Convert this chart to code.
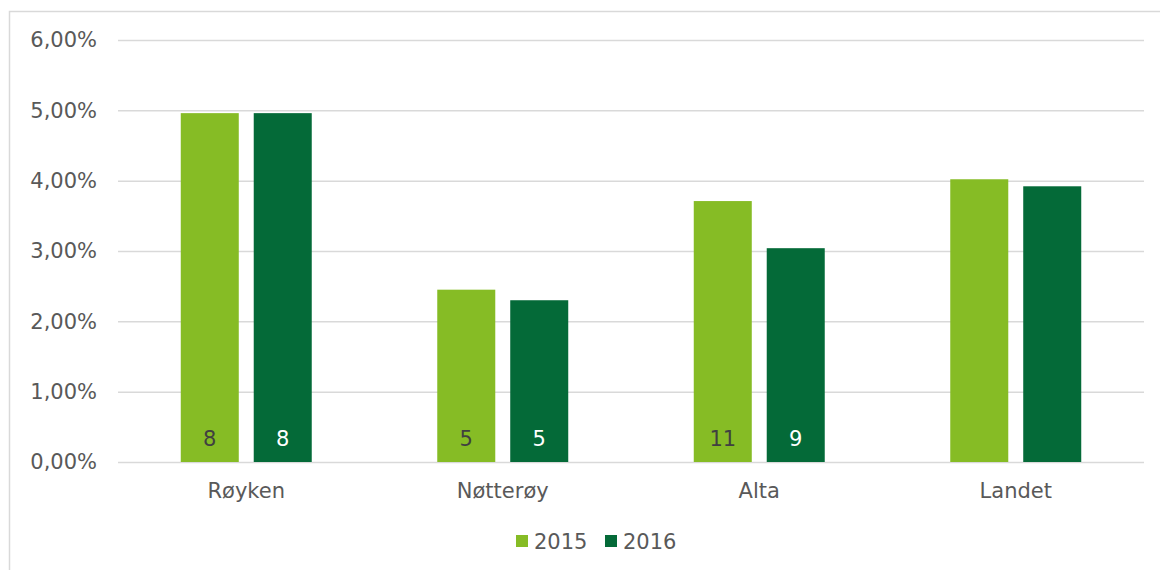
<!DOCTYPE html>
<html>
<head>
<meta charset="utf-8">
<script src="https://cdn.jsdelivr.net/npm/d3@7"></script>
<style>
  body { margin: 0; background: #fff; }
  svg { display: block; font-family: "DejaVu Sans", Verdana, sans-serif; }
</style>
</head>
<body>
<div id="container"></div>
<script>
const categories = ['Røyken', 'Nøtterøy', 'Alta', 'Landet'];
const years = ['2015', '2016'];
const values2015 = [0.0496, 0.0245, 0.0371, 0.0402];
const values2016 = [0.0496, 0.0230, 0.0304, 0.0392];
const counts2015 = ['8', '5', '11', ''];
const counts2016 = ['8', '5', '9', ''];
const yTicks = [0, 0.01, 0.02, 0.03, 0.04, 0.05, 0.06];

const width = 1160;
const height = 570;
const margin = { top: 40, left: 118, bottom: 108, right: 16 };

const colors = ['#86bc25', '#046a38'];
const labelColors = ['#404040', '#ffffff'];
const textColor = '#595959';
const gridColor = '#d9d9d9';

const nb = d3.formatLocale({
  decimal: ',',
  thousands: ' ',
  grouping: [3],
  currency: ['', ' kr'],
});
const pct = nb.format('.2%');

const rows = categories.map((c, i) => ({
  cat: c,
  vals: [
    { year: years[0], v: values2015[i], n: counts2015[i] },
    { year: years[1], v: values2016[i], n: counts2016[i] },
  ],
}));

const svg = d3
  .select('#container')
  .append('svg')
  .attr('width', width)
  .attr('height', height);

// chart area border
svg
  .append('rect')
  .attr('x', 9.5)
  .attr('y', 11.5)
  .attr('width', width + 20)
  .attr('height', height + 20)
  .attr('fill', 'none')
  .attr('stroke', gridColor)
  .attr('stroke-width', 1.5);

const x0 = d3
  .scaleBand()
  .domain(categories)
  .range([margin.left, width - margin.right]);

const x1 = d3
  .scaleBand()
  .domain(years)
  .range([0, x0.bandwidth()])
  .paddingInner(0.205)
  .paddingOuter(0.86);

const y = d3
  .scaleLinear()
  .domain([0, 0.06])
  .range([height - margin.bottom, margin.top]);

// gridlines + y labels
const yAxis = d3
  .axisLeft(y)
  .tickValues(yTicks)
  .tickFormat(pct)
  .tickSize(-(width - margin.left - margin.right))
  .tickPadding(21);

const yg = svg
  .append('g')
  .attr('transform', 'translate(' + margin.left + ',0)')
  .call(yAxis);
yg.select('.domain').remove();
yg.selectAll('line').attr('stroke', gridColor).attr('stroke-width', 1.5);
yg.selectAll('text')
  .attr('fill', textColor)
  .style('font-size', '21px')
  .style('font-family', '"DejaVu Sans", Verdana, sans-serif');

// bars
const groups = svg
  .append('g')
  .selectAll('g')
  .data(rows)
  .enter()
  .append('g')
  .attr('transform', d => 'translate(' + x0(d.cat) + ',0)');

groups
  .selectAll('rect')
  .data(d => d.vals)
  .enter()
  .append('rect')
  .attr('x', d => x1(d.year))
  .attr('y', d => y(d.v))
  .attr('width', x1.bandwidth())
  .attr('height', d => y(0) - y(d.v))
  .attr('fill', (d, i) => colors[i]);

groups
  .selectAll('text')
  .data(d => d.vals)
  .enter()
  .append('text')
  .attr('x', d => x1(d.year) + x1.bandwidth() / 2)
  .attr('y', y(0) - 16)
  .attr('text-anchor', 'middle')
  .attr('fill', (d, i) => labelColors[i])
  .style('font-size', '21px')
  .text(d => d.n);

// category labels
svg
  .append('g')
  .selectAll('text')
  .data(categories)
  .enter()
  .append('text')
  .attr('x', d => x0(d) + x0.bandwidth() / 2)
  .attr('y', y(0) + 36)
  .attr('text-anchor', 'middle')
  .attr('fill', textColor)
  .style('font-size', '21px')
  .text(d => d);

// legend
const legend = svg.append('g').attr('transform', 'translate(516,534)');
years.forEach((yr, i) => {
  const g = legend.append('g').attr('transform', 'translate(' + i * 89 + ',0)');
  g.append('rect')
    .attr('width', 12)
    .attr('height', 12)
    .attr('y', 1)
    .attr('fill', colors[i]);
  g.append('text')
    .attr('x', 18)
    .attr('y', 15)
    .attr('fill', textColor)
    .style('font-size', '21px')
    .text(yr);
});
</script>
</body>
</html>
